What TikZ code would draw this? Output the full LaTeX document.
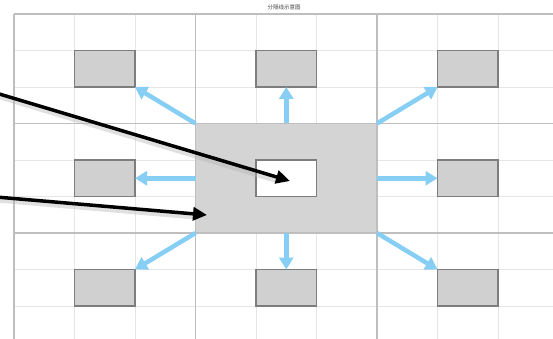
\documentclass[tikz,border=0pt]{standalone}
\usepackage{fontspec}
\newfontfamily\cjk{Noto Sans CJK SC}
\usetikzlibrary{arrows.meta}
\definecolor{majorline}{RGB}{190,190,190}
\definecolor{minorline}{RGB}{230,230,230}
\definecolor{boxfill}{RGB}{208,208,208}
\definecolor{boxedge}{RGB}{125,125,125}
\definecolor{centerfill}{RGB}{212,212,212}
\definecolor{flow}{RGB}{135,206,245}
\tikzset{
  cellbox/.style={draw=boxedge, line width=1.4pt, fill=boxfill,
    minimum width=60.5pt, minimum height=36.5pt, inner sep=0pt, outer sep=0pt},
  holebox/.style={cellbox, fill=white},
  zone/.style={fill=centerfill, draw=majorline, line width=1.2pt,
    minimum width=181.5pt, minimum height=109.5pt, inner sep=0pt, outer sep=0pt},
  spread/.style={draw=flow, line width=4.5pt,
    -{Triangle[length=12pt,width=14pt]}},
  pointer/.style={draw=black, line width=3.5pt,
    -{Triangle[length=14pt,width=13pt]}},
  pointershadow/.style={draw=black!30, line width=5pt, opacity=0.4}
}
\begin{document}
\begin{tikzpicture}[x=1pt,y=-1pt]
\useasboundingbox (0,0) rectangle (553,339);
\clip (0,0) rectangle (553,339);
\fill[white] (0,0) rectangle (553,339);

% title
\node[font=\cjk\fontsize{5.5}{6}\selectfont, text=black!75, inner sep=0pt] (title) at (284,7) {分隔线示意图};

% minor grid
\foreach \x in {74.5,135,256,316.5,437.5,498}
  \draw[minorline, line width=0.6pt] (\x,14) -- (\x,345);
\foreach \y in {50.5,87,160,196.5,269.5,306}
  \draw[minorline, line width=0.6pt] (14,\y) -- (560,\y);
% major grid
\foreach \x in {14,195.5,377,558.5}
  \draw[majorline, line width=1.3pt] (\x,14) -- (\x,345);
\foreach \y in {14,123.5,233}
  \draw[majorline, line width=1.3pt] (14,\y) -- (560,\y);

% central zone and its inner box
\node[zone] (C) at (286.25,178.25) {};
\node[holebox] (hole) at (286.25,178.25) {};

% surrounding boxes
\node[cellbox] (nw) at (104.75,68.75) {};
\node[cellbox] (n)  at (286.25,68.75) {};
\node[cellbox] (ne) at (467.75,68.75) {};
\node[cellbox] (w)  at (104.75,178.25) {};
\node[cellbox] (e)  at (467.75,178.25) {};
\node[cellbox] (sw) at (104.75,287.75) {};
\node[cellbox] (s)  at (286.25,287.75) {};
\node[cellbox] (se) at (467.75,287.75) {};

% spreading arrows
\draw[spread] (C.north west) -- (nw.south east);
\draw[spread] (C.north) -- (n.south);
\draw[spread] (C.north east) -- (ne.south west);
\draw[spread] (C.west) -- (w.east);
\draw[spread] (C.east) -- (e.west);
\draw[spread] (C.south west) -- (sw.north east);
\draw[spread] (C.south) -- (s.north);
\draw[spread] (C.south east) -- (se.north west);

% pointers from the left
\coordinate (p1) at (-4,93);
\coordinate (p2) at (-4,197);
\coordinate (t1) at (290,181);
\coordinate (t2) at (207,215);
\draw[pointershadow] ([shift={(1,3)}]p1) -- ([shift={(-12,0)}]t1);
\draw[pointershadow] ([shift={(1,3)}]p2) -- ([shift={(-12,2)}]t2);
\draw[pointer] (p1) -- (t1);
\draw[pointer] (p2) -- (t2);
\end{tikzpicture}
\end{document}
